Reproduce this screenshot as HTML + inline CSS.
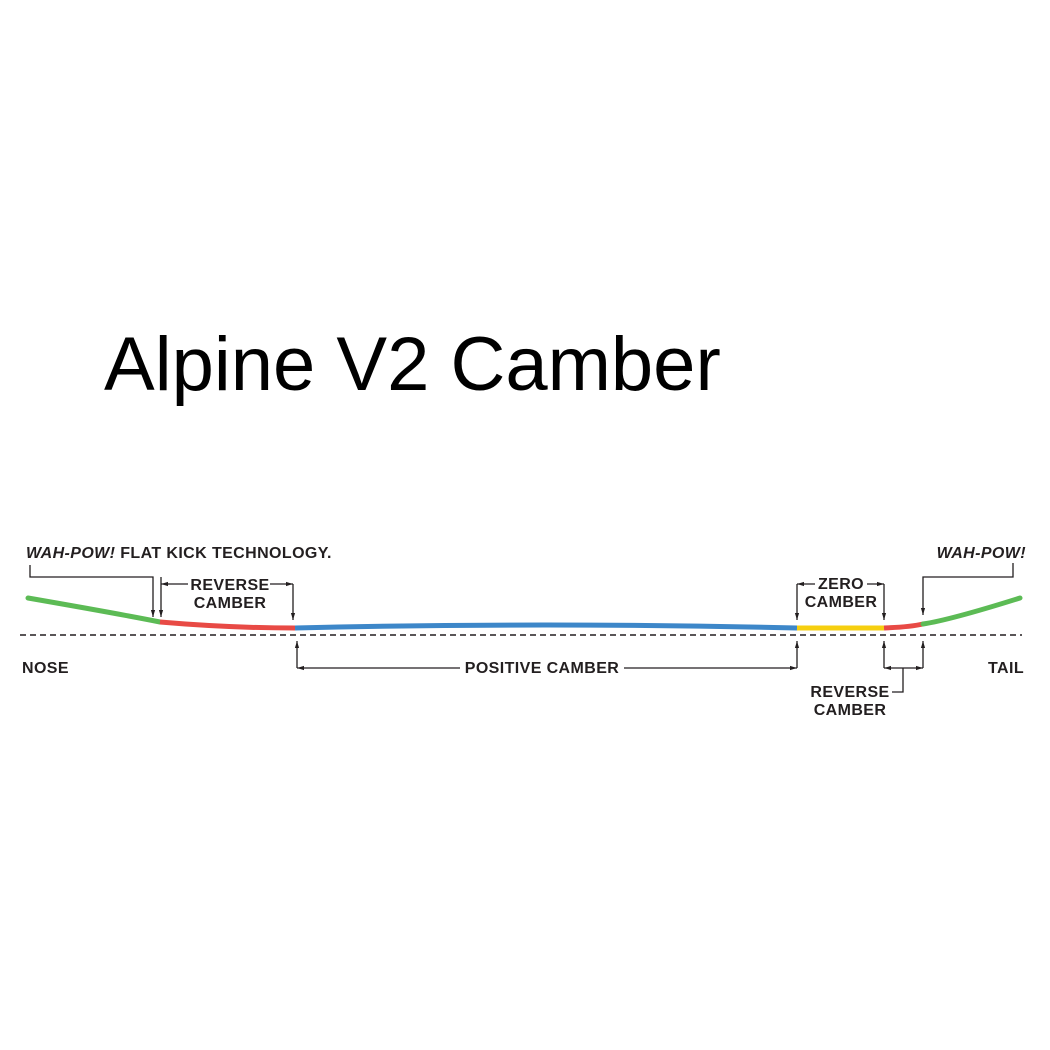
<!DOCTYPE html>
<html><head><meta charset="utf-8"><style>
html,body{margin:0;padding:0;background:#fff;}
svg{display:block}
.t{font-family:"Liberation Sans",Arial,sans-serif;font-weight:bold;font-size:16px;letter-spacing:0.4px;fill:#231f20;}
</style></head><body>
<svg width="1050" height="1050" viewBox="0 0 1050 1050" xmlns="http://www.w3.org/2000/svg">
<defs>
<marker id="ah" viewBox="0 0 10 10" refX="10" refY="5" markerWidth="7" markerHeight="7" orient="auto-start-reverse" markerUnits="userSpaceOnUse"><path d="M0,2 L10,5 L0,8 z" fill="#231f20"/></marker>
</defs>
<text x="104" y="390" font-family="Liberation Sans, Arial, sans-serif" font-size="76" fill="#000">Alpine V2 Camber</text>

<line x1="20" y1="635" x2="1022" y2="635" stroke="#231f20" stroke-width="1.5" stroke-dasharray="6,4"/>

<g fill="none" stroke-width="5" stroke-linecap="butt">
<path d="M28,598 Q120,614 160,622" stroke="#5cbb55" stroke-linecap="round"/>
<path d="M160,622 Q230,628 295,628" stroke="#e84a45"/>
<path d="M295,628 Q545,622 797,628" stroke="#3d87c9"/>
<path d="M797,628 L884,628" stroke="#f6cf10"/>
<path d="M884,628 Q910,627 923,624" stroke="#e84a45"/>
<path d="M923,624 Q950,620 1020,598" stroke="#5cbb55" stroke-linecap="round"/>
</g>

<g stroke="#231f20" stroke-width="1.3" fill="none">
<path d="M30,565 V577 H153 V617" marker-end="url(#ah)"/>
<line x1="161" y1="577" x2="161" y2="617" marker-end="url(#ah)"/>
<line x1="293" y1="584" x2="293" y2="620" marker-end="url(#ah)"/>
<line x1="161" y1="584" x2="188" y2="584" marker-start="url(#ah)"/>
<line x1="270" y1="584" x2="293" y2="584" marker-end="url(#ah)"/>

<line x1="297" y1="668" x2="297" y2="641" marker-end="url(#ah)"/>
<line x1="797" y1="668" x2="797" y2="641" marker-end="url(#ah)"/>
<line x1="297" y1="668" x2="460" y2="668" marker-start="url(#ah)"/>
<line x1="624" y1="668" x2="797" y2="668" marker-end="url(#ah)"/>

<line x1="797" y1="584" x2="797" y2="620" marker-end="url(#ah)"/>
<line x1="884" y1="584" x2="884" y2="620" marker-end="url(#ah)"/>
<line x1="797" y1="584" x2="815" y2="584" marker-start="url(#ah)"/>
<line x1="867" y1="584" x2="884" y2="584" marker-end="url(#ah)"/>

<line x1="884" y1="668" x2="884" y2="641" marker-end="url(#ah)"/>
<line x1="923" y1="668" x2="923" y2="641" marker-end="url(#ah)"/>
<line x1="884" y1="668" x2="923" y2="668" marker-start="url(#ah)" marker-end="url(#ah)"/>
<path d="M903,668 V692 H892"/>

<path d="M1013,563 V577 H923 V615" marker-end="url(#ah)"/>
</g>

<text class="t" x="26" y="558"><tspan font-style="italic">WAH-POW!</tspan> FLAT KICK TECHNOLOGY.</text>
<text class="t" x="230" y="590" text-anchor="middle">REVERSE</text>
<text class="t" x="230" y="608" text-anchor="middle">CAMBER</text>
<text class="t" x="542" y="673" text-anchor="middle">POSITIVE CAMBER</text>
<text class="t" x="841" y="589" text-anchor="middle">ZERO</text>
<text class="t" x="841" y="607" text-anchor="middle">CAMBER</text>
<text class="t" x="850" y="697" text-anchor="middle">REVERSE</text>
<text class="t" x="850" y="715" text-anchor="middle">CAMBER</text>
<text class="t" x="1026" y="558" text-anchor="end" font-style="italic">WAH-POW!</text>
<text class="t" x="22" y="673">NOSE</text>
<text class="t" x="1024" y="673" text-anchor="end">TAIL</text>
</svg>
</body></html>
